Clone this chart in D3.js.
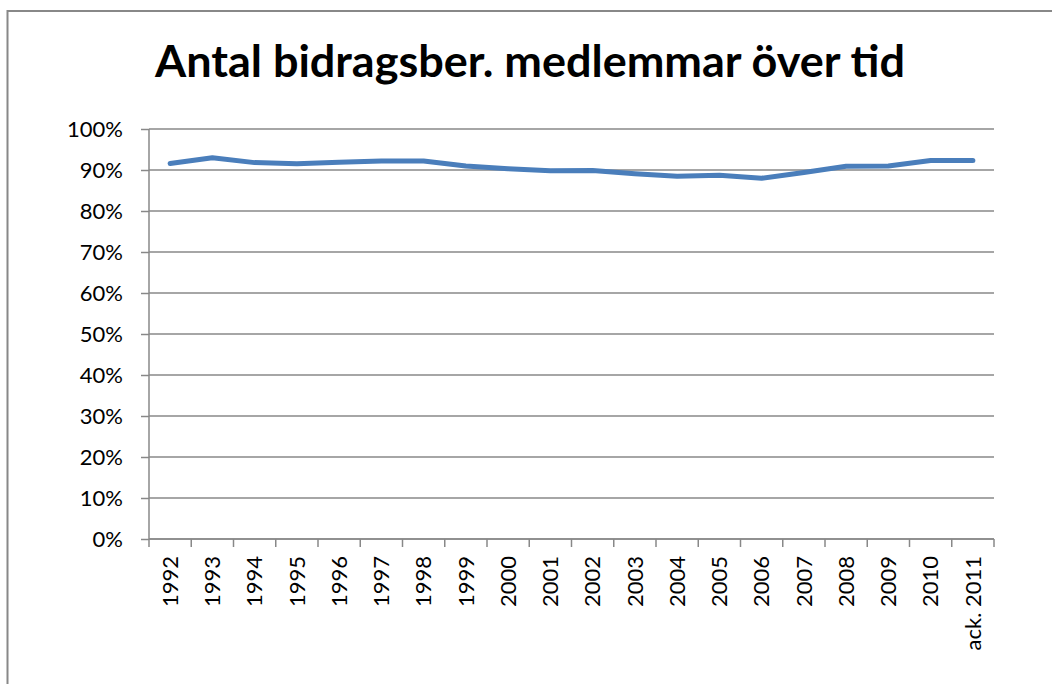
<!DOCTYPE html>
<html>
<head>
<meta charset="utf-8">
<script src="https://cdn.jsdelivr.net/npm/d3@7"></script>
<style>
  html, body { margin: 0; padding: 0; background: #fff; }
  svg { display: block; font-family: Lato, 'Open Sans', sans-serif; }
</style>
</head>
<body>
<svg id="chart" width="1052" height="684"></svg>
<script>
const years = ['1992', '1993', '1994', '1995', '1996', '1997', '1998', '1999', '2000', '2001',
  '2002', '2003', '2004', '2005', '2006', '2007', '2008', '2009', '2010', 'ack. 2011'];
const shares = [0.916, 0.930, 0.918, 0.915, 0.919, 0.922, 0.922, 0.910, 0.903, 0.898,
  0.899, 0.891, 0.885, 0.887, 0.880, 0.894, 0.909, 0.910, 0.923, 0.923];
const yTicks = [0, 0.1, 0.2, 0.3, 0.4, 0.5, 0.6, 0.7, 0.8, 0.9, 1];
const title = 'Antal bidragsber. medlemmar över tid';

const svg = d3.select('#chart');
const gridColor = '#888888';

// outer chart frame (right and bottom edges fall outside the picture)
svg.append('rect')
  .attr('x', 7.5)
  .attr('y', 11)
  .attr('width', 1100)
  .attr('height', 720)
  .attr('fill', 'none')
  .attr('stroke', gridColor)
  .attr('stroke-width', 2);

svg.append('text')
  .attr('x', 530)
  .attr('y', 77)
  .attr('text-anchor', 'middle')
  .attr('font-size', 44)
  .attr('font-weight', 'bold')
  .attr('textLength', 750)
  .attr('lengthAdjust', 'spacingAndGlyphs')
  .text(title);

const x = d3.scaleBand().domain(years).range([149, 994]).padding(0);
const y = d3.scaleLinear().domain([0, 1]).range([539, 129]);

// gridlines
svg.append('g')
  .selectAll('line')
  .data(yTicks)
  .enter()
  .append('line')
  .attr('x1', 149)
  .attr('x2', 994)
  .attr('y1', (d) => y(d))
  .attr('y2', (d) => y(d))
  .attr('stroke', gridColor)
  .attr('stroke-width', 1.3);

const yAxis = svg.append('g')
  .attr('transform', 'translate(149,0)')
  .call(d3.axisLeft(y).tickValues(yTicks).tickFormat(d3.format('.0%')).tickSize(8).tickPadding(18));

const xAxis = svg.append('g')
  .attr('transform', 'translate(0,539)')
  .call(d3.axisBottom(x).tickSize(0).tickPadding(0));

// tick marks between categories
xAxis.selectAll('.sep')
  .data(d3.range(years.length + 1))
  .enter()
  .append('line')
  .attr('class', 'sep')
  .attr('x1', (i) => 149 + i * x.step())
  .attr('x2', (i) => 149 + i * x.step())
  .attr('y1', 0)
  .attr('y2', 8)
  .attr('stroke', gridColor)
  .attr('stroke-width', 1.5);

xAxis.selectAll('.tick text')
  .attr('transform', 'rotate(-90)')
  .attr('text-anchor', 'end')
  .attr('dy', '0.35em')
  .attr('x', -17)
  .attr('y', 0);

[yAxis, xAxis].forEach((g) => {
  g.selectAll('.domain').attr('stroke', gridColor).attr('stroke-width', 1.5);
  g.selectAll('.tick line').attr('stroke', gridColor).attr('stroke-width', 1.5);
  g.selectAll('.tick text')
    .attr('font-size', 22)
    .attr('font-family', "Lato, 'Open Sans', sans-serif")
    .attr('fill', '#000');
});
xAxis.select('.domain').attr('d', 'M149,0H994');
yAxis.select('.domain').attr('d', 'M0,539V129');

const line = d3.line()
  .x((d, i) => x(years[i]) + x.bandwidth() / 2)
  .y((d) => y(d));

svg.append('path')
  .datum(shares)
  .attr('d', line)
  .attr('fill', 'none')
  .attr('stroke', '#4a7ebb')
  .attr('stroke-width', 5)
  .attr('stroke-linecap', 'round')
  .attr('stroke-linejoin', 'round');
</script>
</body>
</html>
